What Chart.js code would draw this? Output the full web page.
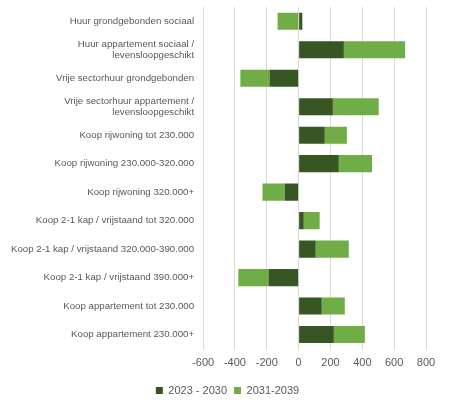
<!DOCTYPE html>
<html>
<head>
<meta charset="utf-8">
<script src="https://cdn.jsdelivr.net/npm/chart.js@4"></script>
<style>
  html, body { margin: 0; padding: 0; background: #fff; }
  #wrap { position: relative; width: 453px; height: 406px; }
</style>
</head>
<body>
<div id="wrap"><canvas id="chart"></canvas></div>
<script>
// ─── data ───
const categories = [
  'Huur grondgebonden sociaal',
  ['Huur appartement sociaal /', 'levensloopgeschikt'],
  'Vrije sectorhuur grondgebonden',
  ['Vrije sectorhuur appartement /', 'levensloopgeschikt'],
  'Koop rijwoning tot 230.000',
  'Koop rijwoning 230.000-320.000',
  'Koop rijwoning 320.000+',
  'Koop 2-1 kap / vrijstaand tot 320.000',
  'Koop 2-1 kap / vrijstaand 320.000-390.000',
  'Koop 2-1 kap / vrijstaand 390.000+',
  'Koop appartement tot 230.000',
  'Koop appartement 230.000+'
];
const period1 = [23, 284, -183, 215, 164, 252, -88, 32, 107, -189, 145, 221];
const period2 = [-132, 385, -183, 288, 139, 209, -139, 100, 208, -190, 145, 195];
const seriesNames = ['2023 - 2030', '2031-2039'];

const textColor = '#595959';
const gridColor = '#d9d9d9';

new Chart(document.getElementById('chart'), {
  type: 'bar',
  data: {
    labels: categories,
    datasets: [
      {
        label: seriesNames[0],
        data: period1,
        backgroundColor: '#375623',
        barPercentage: 0.6,
        categoryPercentage: 1,
      },
      {
        label: seriesNames[1],
        data: period2,
        backgroundColor: '#70ad47',
        barPercentage: 0.6,
        categoryPercentage: 1,
      }
    ]
  },
  options: {
    indexAxis: 'y',
    responsive: true,
    maintainAspectRatio: false,
    animation: false,
    layout: { padding: { top: 7, right: 0, left: 2, bottom: 0 } },
    plugins: {
      legend: {
        position: 'bottom',
        labels: {
          color: textColor,
          font: { size: 11, family: 'Liberation Sans' },
          boxWidth: 7,
          boxHeight: 7,
          padding: 7
        }
      },
      tooltip: { enabled: false }
    },
    scales: {
      x: {
        stacked: true,
        min: -600,
        max: 800,
        ticks: { stepSize: 200, color: textColor, font: { size: 11, family: 'Liberation Sans' }, padding: 8, maxRotation: 0 },
        grid: { color: gridColor, drawTicks: false },
        border: { display: false },
        // keep the legend centred on the whole canvas, room on the right only for the plot
        afterFit: (s) => { s.paddingRight = 27; }
      },
      y: {
        stacked: true,
        ticks: { color: textColor, font: { size: 9.7, family: 'Liberation Sans' }, padding: 9, autoSkip: false },
        grid: { display: false, drawTicks: false },
        border: { display: false },
        // multi-line labels otherwise push the plot down
        afterFit: (s) => { s.paddingTop = 0; s.paddingBottom = 0; }
      }
    }
  }
});
</script>
</body>
</html>
